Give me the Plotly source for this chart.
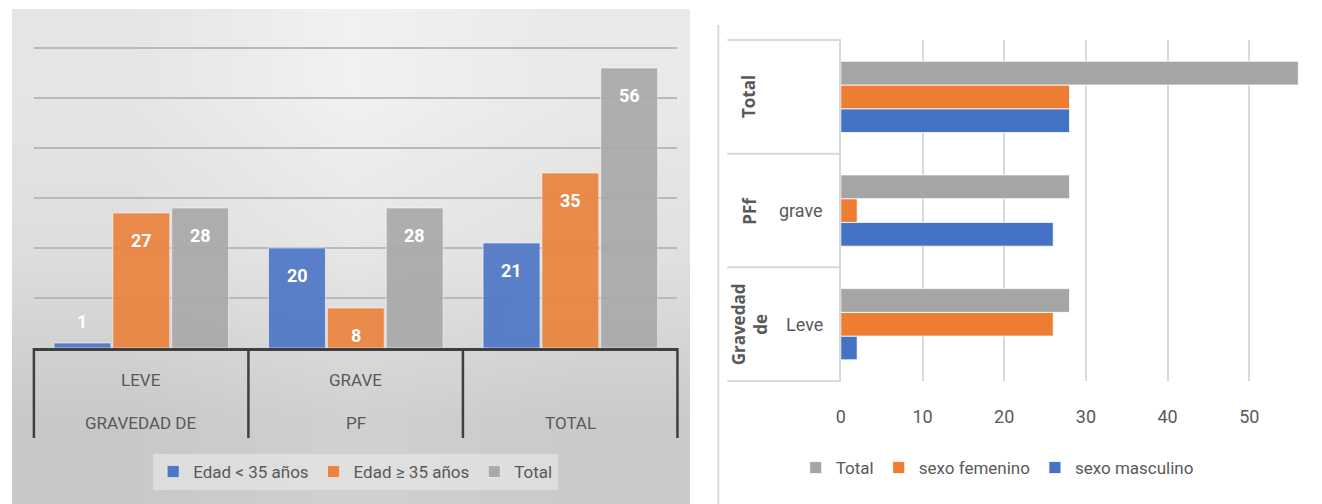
import plotly.graph_objects as go

# ---------------- data ----------------
# Left chart: age groups by facial palsy severity
left_keys = ["leve", "grave", "total"]
left_inner = ["LEVE", "GRAVE", ""]
left_outer = ["GRAVEDAD DE", "PF", "TOTAL"]
edad_menor_35 = [1, 20, 21]
edad_mayor_35 = [27, 8, 35]
edad_total = [28, 28, 56]
left_names = ["Edad < 35 años", "Edad ≥ 35 años", "Total"]
left_ticks = [0, 10, 20, 30, 40, 50, 60]

# Right chart: sex by severity
right_keys = ["leve", "grave", "total"]
right_outer = ["Gravedad<br>de", "PFf", "Total"]
right_inner = ["Leve", "grave", ""]
sexo_masculino = [2, 26, 28]
sexo_femenino = [26, 2, 28]
sexo_total = [28, 28, 56]
right_names = ["sexo masculino", "sexo femenino", "Total"]
right_ticks = [0, 10, 20, 30, 40, 50]

# ---------------- styling ----------------
W, H = 1322, 504
NARROW = "Roboto, sans-serif"
TXT = "#595959"
BLUE, ORANGE, GRAY = "#4472C4", "#ED7D31", "#A5A5A5"
LBLUE, LORANGE, LGRAY = "#4E78C6", "#EA8440", "#A9A9A9"

# gray levels of the left panel backdrop (rows bottom -> top)
bg_levels = [[200, 208, 202],
             [221, 230, 224],
             [229, 241, 233]]


def fx(p):
    return p / W


def fy(p):
    return 1 - p / H


fig = go.Figure()

# backdrop of the left panel
fig.add_trace(go.Heatmap(
    z=bg_levels, x=[0, 1, 2], y=[0, 1, 2], zsmooth="best",
    colorscale=[[0, "rgb(0,0,0)"], [1, "rgb(255,255,255)"]], zmin=0, zmax=255,
    showscale=False, hoverinfo="skip", xaxis="x", yaxis="y"))

# left grouped bars
lw = 0.265
lstep = 0.2743
lstart = -0.406
left_series = [edad_menor_35, edad_mayor_35, edad_total]
left_colors = [LBLUE, LORANGE, LGRAY]
for k, (vals, name, col) in enumerate(zip(left_series, left_names, left_colors)):
    fig.add_trace(go.Bar(
        x=left_keys, y=vals, name=name, width=lw, offset=lstart + k * lstep,
        marker=dict(color=col, opacity=0.93, line=dict(color="rgba(255,255,255,0.55)", width=1)),
        xaxis="x2", yaxis="y2", legend="legend"))

# right horizontal bars
rw = 0.209
rstart = -0.314
right_series = [sexo_masculino, sexo_femenino, sexo_total]
right_colors = [BLUE, ORANGE, GRAY]
for k, (vals, name, col) in enumerate(zip(right_series, right_names, right_colors)):
    fig.add_trace(go.Bar(
        y=right_keys, x=vals, name=name, orientation="h", width=rw, offset=rstart + k * rw,
        marker=dict(color=col, line=dict(color="rgba(255,255,255,0.8)", width=1)),
        xaxis="x3", yaxis="y3", legend="legend2", legendrank=3 - k))

annotations = []
shapes = []

# value labels on the left bars
for k, vals in enumerate(left_series):
    for i, v in enumerate(vals):
        inside = v >= 6
        annotations.append(dict(
            x=i + lstart + k * lstep + lw / 2, y=v, xref="x2", yref="y2",
            text=str(v), showarrow=False, yanchor="middle",
            yshift=-27 if inside else 22,
            font=dict(family=NARROW, size=18, color="white", weight="bold")))

# two-level category labels on the left
for i in range(len(left_keys)):
    annotations.append(dict(x=i, y=fy(380), xref="x2", yref="paper", text=left_inner[i],
                            yanchor="middle", showarrow=False,
                            font=dict(family=NARROW, size=17, color=TXT)))
    annotations.append(dict(x=i, y=fy(423), xref="x2", yref="paper", text=left_outer[i],
                            yanchor="middle", showarrow=False,
                            font=dict(family=NARROW, size=17, color=TXT)))
ncat = len(left_keys)
for i in range(ncat + 1):
    shapes.append(dict(type="line", xref="x2 domain", yref="paper",
                       x0=i / ncat, x1=i / ncat, y0=fy(348), y1=fy(438),
                       line=dict(color="#3f3f3f", width=2.5)))

# two-level category labels on the right
for i in range(len(right_keys)):
    annotations.append(dict(x=fx(747), y=i, xref="paper", yref="y3", text=right_outer[i],
                            textangle=-90, showarrow=False, yanchor="middle",
                            font=dict(family="Open Sans, sans-serif", size=17, color=TXT, weight="bold")))
    annotations.append(dict(x=fx(823), y=i, xref="paper", yref="y3", text=right_inner[i],
                            xanchor="right", yanchor="middle", showarrow=False,
                            font=dict(family=NARROW, size=18, color=TXT)))
nr = len(right_keys)
for i in range(nr + 1):
    shapes.append(dict(type="line", xref="paper", yref="y3 domain",
                       x0=fx(725), x1=fx(839), y0=i / nr, y1=i / nr,
                       line=dict(color="#d9d9d9", width=2)))

# frame line of the right panel
shapes.append(dict(type="line", xref="paper", yref="paper", x0=fx(716), x1=fx(716),
                   y0=0, y1=fy(25), line=dict(color="#d9d9d9", width=2)))

fig.update_layout(
    width=W, height=H,
    margin=dict(l=0, r=0, t=0, b=0),
    paper_bgcolor="white", plot_bgcolor="rgba(0,0,0,0)",
    barmode="overlay", showlegend=True,
    font=dict(family=NARROW, color=TXT),
    xaxis=dict(domain=[fx(7), fx(688)], range=[-0.5, 2.5], visible=False, fixedrange=True),
    yaxis=dict(domain=[0, fy(9)], range=[-0.5, 2.5], visible=False, fixedrange=True),
    xaxis2=dict(domain=[fx(29), fx(675)], type="category", range=[-0.5, 2.5],
                showticklabels=False, ticks="", showgrid=False, zeroline=False,
                showline=True, linecolor="#3f3f3f", linewidth=2.5, anchor="y2"),
    yaxis2=dict(domain=[fy(348), fy(46.5)], range=[0, 60.3], tickvals=left_ticks,
                showticklabels=False, ticks="", showgrid=True, gridcolor="#b9b9b9",
                gridwidth=2, zeroline=False, showline=False, anchor="x2"),
    xaxis3=dict(domain=[fx(839), 1], range=[0, 58.9], tickvals=right_ticks,
                ticks="outside", ticklen=19, tickcolor="rgba(0,0,0,0)",
                tickfont=dict(family=NARROW, size=18, color=TXT),
                showgrid=True, gridcolor="#d9d9d9", gridwidth=1.5,
                zeroline=False, showline=False, anchor="y3"),
    yaxis3=dict(domain=[fy(381), fy(40)], type="category", range=[-0.5, 2.5],
                showticklabels=False, ticks="", showgrid=False, zeroline=False,
                showline=True, linecolor="#d9d9d9", linewidth=2, anchor="x3"),
    legend=dict(orientation="h", x=fx(352), y=fy(472), xanchor="center", yanchor="middle",
                bgcolor="rgba(236,236,236,0.55)", font=dict(family=NARROW, size=17, color=TXT),
                itemwidth=30, traceorder="normal"),
    legend2=dict(orientation="h", x=fx(996), y=fy(468), xanchor="center", yanchor="middle",
                 bgcolor="rgba(0,0,0,0)", font=dict(family=NARROW, size=17, color=TXT),
                 itemwidth=30, traceorder="normal"),
    annotations=annotations, shapes=shapes,
)

fig.write_html("out.html")
